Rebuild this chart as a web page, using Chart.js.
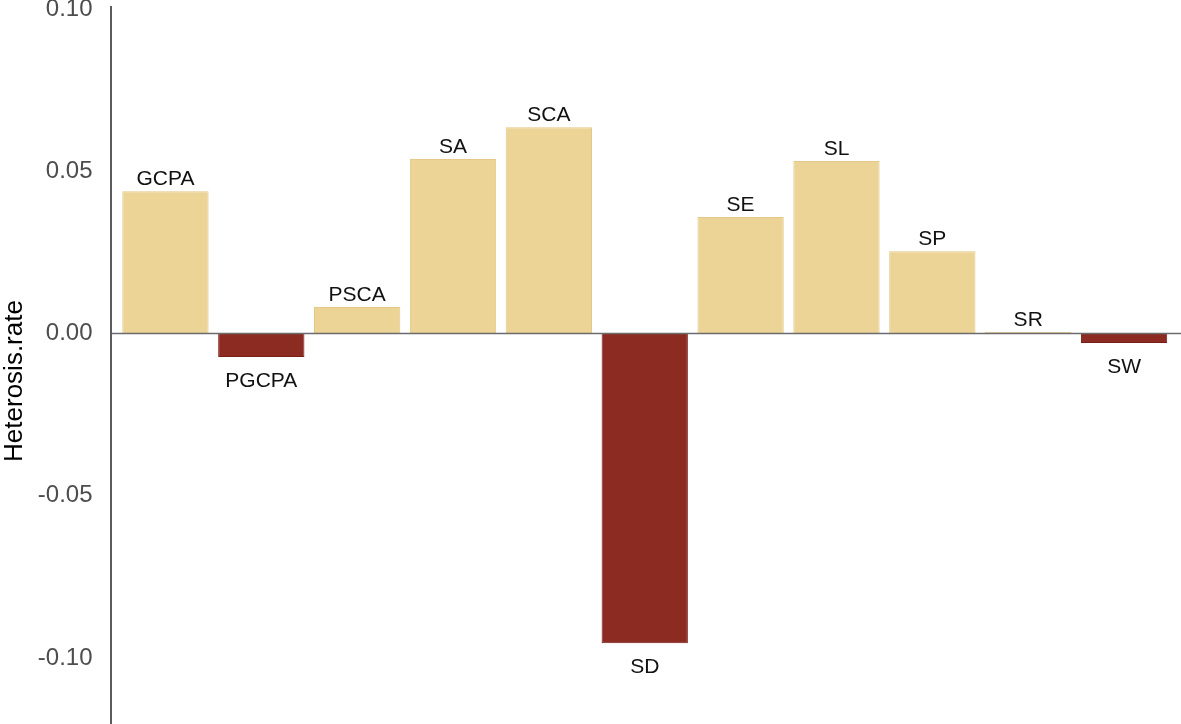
<!DOCTYPE html>
<html>
<head>
<meta charset="utf-8">
<script src="https://cdn.jsdelivr.net/npm/chart.js@4"></script>
<style>
  html, body { margin: 0; padding: 0; background: #fff; }
  #wrap { width: 1181px; height: 724px; position: relative; }
</style>
</head>
<body>
<div id="wrap"><canvas id="myChart"></canvas></div>
<script>
// data
const categories = ["GCPA", "PGCPA", "PSCA", "SA", "SCA", "SD", "SE", "SL", "SP", "SR", "SW"]
const heterosisRate = [0.0439, -0.0072, 0.0082, 0.0538, 0.0636, -0.0954, 0.0359, 0.0532, 0.0254, 0.0005, -0.0029]
const yTicks = [-0.10, -0.05, 0.00, 0.05, 0.10]
const yMin = -0.1203
const yMax = 0.1028

const posColor = "#ecd497"
const posBorder = "#e3c886"
const negColor = "#8b2b22"
const negBorder = "#7a1f18"

const fillColors = heterosisRate.map(v => v >= 0 ? posColor : negColor)
const borderColors = heterosisRate.map(v => v >= 0 ? posBorder : negBorder)

// axis line, zero line, bar labels and y title
const extras = {
  id: "extras",
  afterDatasetsDraw(chart) {
    const ctx = chart.ctx
    const y = chart.scales.y
    ctx.save()
    // zero line
    const y0 = y.getPixelForValue(0)
    ctx.strokeStyle = "#6b6b6b"
    ctx.lineWidth = 1.5
    ctx.beginPath()
    ctx.moveTo(111, y0)
    ctx.lineTo(1181, y0)
    ctx.stroke()
    // y axis line
    ctx.strokeStyle = "#5c5c5c"
    ctx.lineWidth = 2
    ctx.beginPath()
    ctx.moveTo(111, 6)
    ctx.lineTo(111, 724)
    ctx.stroke()

    // labels on bars
    const meta = chart.getDatasetMeta(0)
    ctx.fillStyle = "#111"
    ctx.font = "21px 'Liberation Sans', Arial, sans-serif"
    ctx.textAlign = "center"
    ctx.textBaseline = "alphabetic"
    meta.data.forEach((bar, i) => {
      const v = heterosisRate[i]
      if (v >= 0) {
        ctx.fillText(categories[i], bar.x, bar.y - 6)
      } else {
        ctx.fillText(categories[i], bar.x, bar.y + 30)
      }
    })

    // y title
    ctx.translate(15, 381)
    ctx.rotate(-Math.PI / 2)
    ctx.fillStyle = "#000"
    ctx.font = "26px 'Liberation Sans', Arial, sans-serif"
    ctx.textAlign = "center"
    ctx.textBaseline = "middle"
    ctx.fillText("Heterosis.rate", 0, 0)
    ctx.restore()
  }
}

const chart = new Chart("myChart", {
  type: "bar",
  data: {
    labels: categories,
    datasets: [{
      data: heterosisRate,
      backgroundColor: fillColors,
      borderColor: borderColors,
      borderWidth: 1,
      barPercentage: 0.9,
      categoryPercentage: 1.0
    }]
  },
  options: {
    responsive: true,
    maintainAspectRatio: false,
    animation: false,
    layout: { padding: { left: 0, right: 9, top: 0, bottom: 0 } },
    plugins: {
      legend: { display: false },
      tooltip: { enabled: false }
    },
    scales: {
      x: {
        display: false,
        offset: true
      },
      y: {
        min: yMin,
        max: yMax,
        grid: { display: false, drawTicks: false },
        border: { display: false },
        afterFit(scale) {
          scale.width = 117.5
          scale.paddingTop = 0
          scale.paddingBottom = 0
        },
        afterBuildTicks(scale) { scale.ticks = yTicks.map(v => ({ value: v })) },
        ticks: {
          padding: 25,
          color: "#4d4d4d",
          font: { family: "'Liberation Sans', Arial, sans-serif", size: 24 },
          callback: v => v.toFixed(2)
        }
      }
    }
  },
  plugins: [extras]
})
</script>
</body>
</html>
